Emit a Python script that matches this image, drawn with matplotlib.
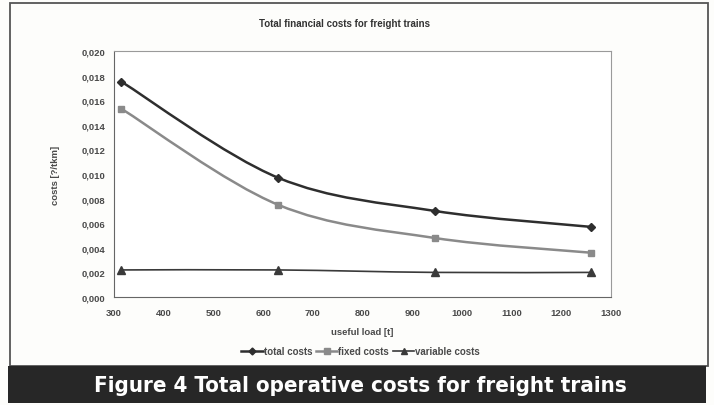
import matplotlib.pyplot as plt
import numpy as np
from matplotlib.lines import Line2D
from matplotlib.patches import PathPatch, Rectangle
from matplotlib.path import Path
from matplotlib.ticker import FuncFormatter, MultipleLocator

plt.rcParams["font.family"] = ["Liberation Sans", "DejaVu Sans"]

# useful load [t] and cost per tkm for each cost component
load_t = [315, 630, 945, 1260]
total_costs = [0.0175, 0.0097, 0.0070, 0.0057]
fixed_costs = [0.0153, 0.0075, 0.0048, 0.0036]
variable_costs = [0.0022, 0.0022, 0.0020, 0.0020]

series = [
    ("total costs", total_costs, "#2e2e2e", 1.8, "D", 4.5),
    ("fixed costs", fixed_costs, "#8a8a8a", 1.8, "s", 5),
    ("variable costs", variable_costs, "#3a3a3a", 1.2, "^", 5.5),
]
TXT = "#4a4a4a"


def smooth_path(x, y):
    """Catmull-Rom style bezier through the points (spreadsheet 'smoothed line')."""
    pts = np.column_stack([x, y]).astype(float)
    n = len(pts)
    verts, codes = [pts[0]], [Path.MOVETO]
    for i in range(n - 1):
        p0 = pts[i - 1] if i > 0 else pts[i]
        p1, p2 = pts[i], pts[i + 1]
        p3 = pts[i + 2] if i + 2 < n else pts[i + 1]
        verts += [p1 + (p2 - p0) / 6, p2 - (p3 - p1) / 6, p2]
        codes += [Path.CURVE4] * 3
    return Path(verts, codes)


fig = plt.figure(figsize=(7.14, 4.06), dpi=100)
fig.patch.set_facecolor("#fdfdfb")
W, H = 714, 406

# outer chart frame and caption banner
fig.add_artist(Rectangle((10 / W, 1 - 367 / H), 698 / W, 363 / H,
                         transform=fig.transFigure, fill=False,
                         edgecolor="#555555", lw=1.3))
fig.add_artist(Rectangle((8 / W, 1 - 404 / H), 698 / W, 37 / H,
                         transform=fig.transFigure, facecolor="#272727",
                         edgecolor="none"))
fig.text(0.505, 1 - 386 / H, "Figure 4 Total operative costs for freight trains",
         color="white", fontsize=16, fontweight="bold", ha="center", va="center",
         family=["DejaVu Sans"], fontstretch="condensed")

ax = fig.add_axes([114 / W, 1 - 298 / H, 497 / W, 246 / H])
ax.set_facecolor("white")

for label, vals, color, lw, marker, ms in series:
    ax.add_patch(PathPatch(smooth_path(load_t, vals), facecolor="none",
                           edgecolor=color, lw=lw, capstyle="round"))
    ax.plot(load_t, vals, ls="none", marker=marker, ms=ms, color=color)

ax.set_xlim(300, 1300)
ax.set_ylim(0, 0.020)
ax.xaxis.set_major_locator(MultipleLocator(100))
ax.yaxis.set_major_locator(MultipleLocator(0.002))
ax.yaxis.set_major_formatter(FuncFormatter(lambda v, _: f"{v:.3f}".replace(".", ",")))
ax.tick_params(length=0, labelsize=6.8, colors=TXT, pad=6)
ax.tick_params(axis="x", pad=8)
for lab in ax.get_xticklabels() + ax.get_yticklabels():
    lab.set_fontweight("bold")
for name, sp in ax.spines.items():
    sp.set_color("#9a9a9a" if name in ("top", "right") else "#666666")
    sp.set_linewidth(0.8)

ax.set_xlabel("useful load [t]", fontsize=6.8, color=TXT, labelpad=7,
              fontweight="bold")
ax.set_ylabel("costs [?/tkm]", fontsize=6.8, color=TXT, labelpad=16,
              fontweight="bold")
fig.text(0.483, 1 - 24 / H, "Total financial costs for freight trains",
         fontsize=7, color="#333333", ha="center", va="center", fontweight="bold")

handles = [Line2D([], [], color=c, lw=lw, marker=m, ms=ms - 1)
           for _, _, c, lw, m, ms in series]
fig.legend(handles, [s[0] for s in series], loc="center",
           bbox_to_anchor=(0.505, 1 - 352 / H), ncol=3, frameon=False,
           prop={"size": 7, "weight": "bold"}, handlelength=2.2,
           handletextpad=0.1, columnspacing=0.4, labelcolor=TXT)

fig.savefig("out.png", dpi=100, facecolor=fig.get_facecolor())
